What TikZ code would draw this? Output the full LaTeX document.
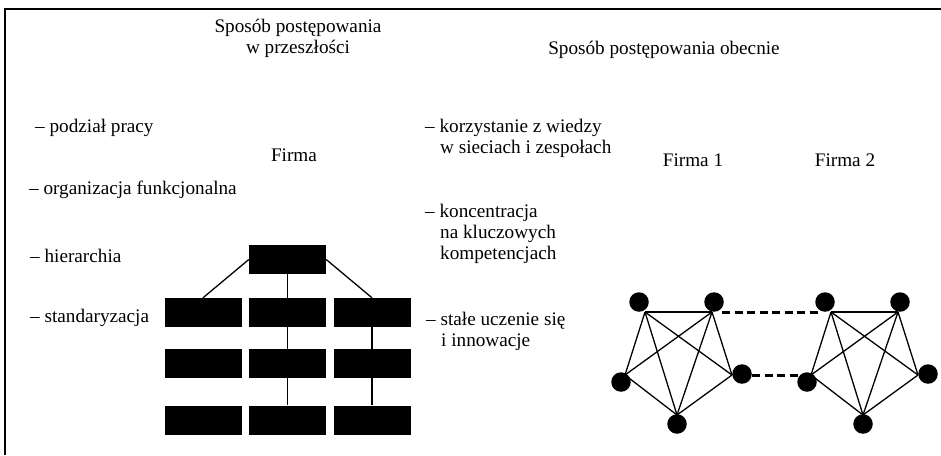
\documentclass[tikz,border=0pt]{standalone}
\usepackage{fontspec}
\setmainfont{Liberation Serif}
\begin{document}
\begin{tikzpicture}[x=1pt,y=-1pt,font=\fontsize{19.2}{21}\selectfont,
	box/.style={fill=black,minimum width=77pt,minimum height=29pt,inner sep=0pt},
	dot/.style={circle,fill=black,minimum size=19.5pt,inner sep=0pt},
	txt/.style={inner sep=0pt,anchor=west,align=left},
	link/.style={line width=1.3pt},
	tie/.style={line width=3pt,dash pattern=on 8pt off 4.5pt}]
	\useasboundingbox (0,0) rectangle (941,455);
	\draw [line width=1.5pt] (5,455) -- (5,9) -- (941,9);
	\node [align=center,inner sep=0pt] at (298,38) (past) {Sposób postępowania\\w przeszłości};
	\node [inner sep=0pt] at (664,50) (now) {Sposób postępowania obecnie};
	\foreach \n/\x/\y/\t in {p1/35/128/podział pracy, p2/29/190/organizacja funkcjonalna, p3/30/256/hierarchia, p4/30/318/standaryzacja}
		\node [txt] at (\x,\y) (\n) {– \t};
	\node [inner sep=0pt] at (294,155) (firma) {Firma};
	\node [box] at (287.5,259.5) (top) {};
	\foreach \c/\x in {a/203, b/287.5, c/372}
		\foreach \r/\y in {1/312.5, 2/363.5, 3/420}
			\node [box] at (\x,\y) (\c\r) {};
	\draw [link] (top.west) -- (a1.north);
	\draw [link] (top.south) -- (b1.north);
	\draw [link] (top.east) -- (c1.north);
	\foreach \c in {b,c}
		\draw [link] (\c1.south) -- (\c2.north) (\c2.south) -- (\c3.north);
	\node [txt] at (425,138.5) (k1) {– korzystanie z wiedzy\\\hspace*{15pt}w sieciach i zespołach};
	\node [txt] at (425,234) (k2) {– koncentracja\\\hspace*{15pt}na kluczowych\\\hspace*{15pt}kompetencjach};
	\node [txt] at (426,331.5) (k3) {– stałe uczenie się\\\hspace*{15pt}i innowacje};
	\node [inner sep=0pt] at (693,160) (f1) {Firma 1};
	\node [inner sep=0pt] at (845,160) (f2) {Firma 2};
	\foreach \f/\dx in {1/0, 2/186}{
		\coordinate (tl\f) at (645+\dx,312);
		\coordinate (tr\f) at (712+\dx,312);
		\coordinate (lf\f) at (625+\dx,375);
		\coordinate (rt\f) at (732+\dx,375);
		\coordinate (bt\f) at (677+\dx,415);
		\foreach \a/\b in {tl/tr, tl/lf, tl/bt, tl/rt, tr/lf, tr/bt, tr/rt, lf/bt, rt/bt}
			\draw [link] (\a\f) -- (\b\f);
	}
	\draw [tie,shorten <=10pt,shorten >=10pt] (tr1) -- (tl2);
	\draw [tie,shorten <=20pt,shorten >=13pt] (rt1) -- (lf2);
	\foreach \f/\dx in {1/0, 2/186}{
		\node [dot] at (639+\dx,302) (dtl\f) {};
		\node [dot] at (714+\dx,302) (dtr\f) {};
		\node [dot] at (621+\dx,382) (dlf\f) {};
		\node [dot] at (742+\dx,374) (drt\f) {};
		\node [dot] at (677+\dx,424) (dbt\f) {};
	}
\end{tikzpicture}
\end{document}
